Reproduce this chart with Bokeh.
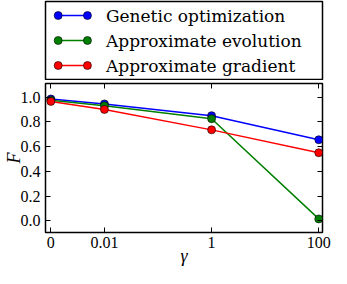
import numpy as np
from bokeh.plotting import figure
from bokeh.layouts import column
from bokeh.models import FixedTicker, LinearAxis, Range1d
from bokeh.core.properties import value
from bokeh.embed import file_html
from bokeh.resources import INLINE

# ---- data ----
gamma = [0, 0.01, 1, 100]
gamma_labels = ["0", "0.01", "1", "100"]
series_names = ["Genetic optimization", "Approximate evolution", "Approximate gradient"]
genetic = [0.985, 0.945, 0.85, 0.655]
evolution = [0.975, 0.93, 0.825, 0.015]
gradient = [0.965, 0.90, 0.735, 0.55]
series_colors = ["#0000ff", "#008000", "#ff0000"]
y_ticks = [0.0, 0.2, 0.4, 0.6, 0.8, 1.0]
y_tick_labels = ["0.0", "0.2", "0.4", "0.6", "0.8", "1.0"]

# symlog-like positions: zero placed one decade below the smallest non-zero value
xpos = [int(round(np.log10(g))) if g > 0 else int(round(np.log10(gamma[1]))) - 1 for g in gamma]

FONT_LEG = "DejaVu Serif"
FONT = "Liberation Serif"
W = 331
LEFT = 38
RIGHT = 9

# ---- legend panel ----
lg = figure(width=W, height=80, x_range=Range1d(0, W - LEFT - RIGHT), y_range=Range1d(0, 78),
            output_backend="svg", toolbar_location=None,
            min_border_left=LEFT, min_border_right=RIGHT, min_border_top=1, min_border_bottom=1)
lg.axis.visible = False
lg.grid.visible = False
lg.outline_line_color = "black"
lg.outline_line_width = 1.5
row_y = [64, 39, 14]
for name, c, yy in zip(series_names, series_colors, row_y):
    lg.line([13, 43], [yy, yy], line_color=c, line_width=1.5)
    lg.scatter([13, 43], [yy, yy], size=8, fill_color=c, line_color="black", line_width=0.6)
    lg.text([62], [yy], text=[name], text_font=value(FONT_LEG), text_font_size="17px",
            text_baseline="middle", text_align="left", text_color="black")

# ---- main plot ----
p = figure(width=W, height=188, x_range=Range1d(-3.1, 2.07), y_range=Range1d(-0.095, 1.11),
           output_backend="svg", toolbar_location=None,
           min_border_left=LEFT, min_border_right=RIGHT, min_border_top=3, min_border_bottom=30,
           x_axis_label="γ", y_axis_label="F")
p.grid.visible = False
p.outline_line_color = "black"
p.outline_line_width = 1.5

xticker = FixedTicker(ticks=xpos)
yticker = FixedTicker(ticks=y_ticks)
bottom_ax = p.below[0]
left_ax = p.left[0]
bottom_ax.ticker = xticker
left_ax.ticker = yticker
bottom_ax.major_label_overrides = {xp: lab for xp, lab in zip(xpos, gamma_labels)}
left_ax.major_label_overrides = {yt: lab for yt, lab in zip(y_ticks, y_tick_labels)}

top_ax = LinearAxis(ticker=xticker)
right_ax = LinearAxis(ticker=yticker)
top_ax.major_label_overrides = {xp: "" for xp in xpos}
right_ax.major_label_overrides = {yt: "" for yt in y_ticks}
p.add_layout(top_ax, "above")
p.add_layout(right_ax, "right")
for ax in (top_ax, right_ax):
    ax.major_label_standoff = 0

for ax in (bottom_ax, left_ax, top_ax, right_ax):
    ax.axis_line_color = None
    ax.major_tick_in = 5
    ax.major_tick_out = 0
    ax.major_tick_line_color = "black"
    ax.major_tick_line_width = 1
    ax.minor_tick_line_color = None
    ax.major_label_text_font = FONT
    ax.major_label_text_color = "black"
    ax.major_label_text_font_size = "16px"
    ax.axis_label_text_font = FONT
    ax.axis_label_text_font_style = "italic"
    ax.axis_label_text_color = "black"
    ax.axis_label_text_font_size = "18px"

bottom_ax.major_label_standoff = 4
bottom_ax.axis_label_standoff = -5
left_ax.major_label_standoff = 5
left_ax.axis_label_standoff = -6

for vals, c in zip([genetic, evolution, gradient], series_colors):
    p.line(xpos, vals, line_color=c, line_width=1.5)
    p.scatter(xpos, vals, size=8, fill_color=c, line_color="black", line_width=0.6)

layout = column(lg, p, spacing=0)
open("out.html", "w").write(file_html(layout, INLINE))
